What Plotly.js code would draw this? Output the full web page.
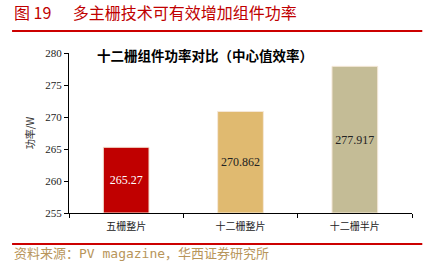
<!DOCTYPE html>
<html><head><meta charset="utf-8">
<script src="https://cdn.plot.ly/plotly-3.0.1.min.js"></script>
<style>html,body{margin:0;padding:0;background:#fff;}#c{width:428px;height:272px;}</style>
</head><body><div id="c"></div>
<script>
const categories = ["五栅整片", "十二栅整片", "十二栅半片"];
const values = [265.27, 270.862, 277.917];
const valueLabels = ["265.27", "270.862", "277.917"];
const barColors = ["#C00000", "#E0BA70", "#C4BC96"];
const labelColors = ["#FFFFFF", "#222222", "#222222"];
const yTicks = [255, 260, 265, 270, 275, 280];
const yBase = 255;

const cjk = '"Noto Sans CJK SC", "Noto Sans", sans-serif';
const serif = '"Liberation Serif", "DejaVu Serif", serif';

const trace = {
  type: 'bar', x: categories, y: values.map(v => v - yBase), base: yBase,
  text: valueLabels, textposition: 'inside', insidetextanchor: 'middle',
  textfont: {family: serif, size: 12, color: labelColors},
  marker: {color: barColors, line: {color: '#F5E8D8', width: 1}},
  hoverinfo: 'none', cliponaxis: false
};

const layout = {
  width: 428, height: 272,
  margin: {l: 69, r: 16, t: 53, b: 59},
  paper_bgcolor: '#fff', plot_bgcolor: '#fff',
  showlegend: false, bargap: 0.6,
  xaxis: {
    type: 'category', showgrid: false, showline: true, linecolor: '#000', linewidth: 1,
    ticks: 'outside', tickson: 'boundaries', ticklen: 4, tickcolor: '#000',
    ticklabelstandoff: 4,
    tickfont: {family: cjk, size: 10, color: '#222'}, fixedrange: true
  },
  yaxis: {
    range: [255, 280], tickvals: yTicks, ticktext: yTicks.map(String),
    showgrid: false, zeroline: false, showline: true, linecolor: '#000', linewidth: 1,
    ticks: 'outside', ticklen: 4, tickcolor: '#000',
    tickfont: {family: serif, size: 11, color: '#222'},
    title: {text: '功率/W', font: {family: cjk, size: 10, color: '#333'}, standoff: 8}
  },
  shapes: [
    {type: 'line', xref: 'paper', yref: 'paper', x0: -0.166, x1: 1.03, y0: 1.1375, y1: 1.1375,
     line: {color: '#CC0000', width: 2}},
    {type: 'line', xref: 'paper', yref: 'paper', x0: -0.166, x1: 1.03, y0: -0.194, y1: -0.194,
     line: {color: '#CC0000', width: 2}}
  ],
  annotations: [
    {text: '图 19      多主栅技术可有效增加组件功率', xref: 'paper', yref: 'paper',
     x: -0.166, y: 1.256, xanchor: 'left', yanchor: 'middle', showarrow: false,
     font: {family: cjk, size: 16, color: '#C00000'}},
    {text: '十二栅组件功率对比（中心值效率）', xref: 'paper', yref: 'paper',
     x: 0.075, y: 0.985, xanchor: 'left', yanchor: 'middle', showarrow: false,
     font: {family: cjk, size: 13.5, color: '#000', weight: 'bold'}},
    {text: '资料来源：PV magazine，华西证券研究所', xref: 'paper', yref: 'paper',
     x: -0.166, y: -0.256, xanchor: 'left', yanchor: 'middle', showarrow: false,
     font: {family: '"DejaVu Sans Mono", "Noto Sans CJK SC", monospace', size: 13, color: '#B8955A'}}
  ]
};
Plotly.newPlot('c', [trace], layout, {staticPlot: true});
</script></body></html>
